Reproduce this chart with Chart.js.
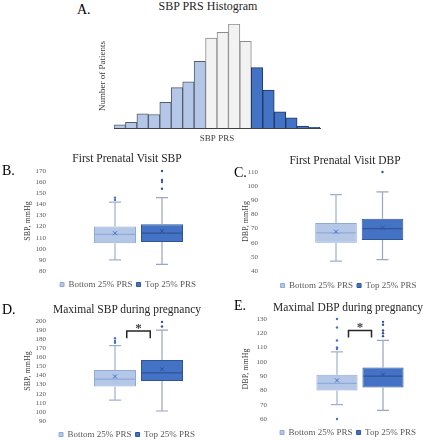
<!DOCTYPE html>
<html>
<head>
<meta charset="utf-8">
<title>SBP PRS figure</title>
<script src="https://cdn.jsdelivr.net/npm/chart.js@4.4.1/dist/chart.umd.min.js"></script>
<style>
  body {
    margin: 0;
    width: 423px;
    height: 440px;
    overflow: hidden;
    background: #fff;
    position: relative;
    font-family: "Liberation Serif", "Times New Roman", serif;
  }
  canvas { position: absolute; }
  .letter { position: absolute; font-size: 14px; line-height: 16px; color: #000; }
  .title {
    position: absolute;
    width: 220px;
    text-align: center;
    font-size: 11.5px;
    line-height: 14px;
    color: #262626;
    white-space: nowrap;
  }
</style>
</head>
<body>
<div class="letter" style="left:77px;top:2px">A.</div>
<div class="title" style="left:98px;top:-1px;font-size:12px">SBP PRS Histogram</div>
<canvas id="hist" width="240" height="130" style="left:90px;top:18px"></canvas>

<canvas id="sbpFirst" width="256" height="137" style="left:0px;top:162px"></canvas>
<canvas id="dbpFirst" width="225" height="137" style="left:236px;top:163px"></canvas>
<canvas id="sbpMax" width="254" height="137" style="left:0px;top:312px"></canvas>
<canvas id="dbpMax" width="224" height="137" style="left:236px;top:310px"></canvas>

<div class="letter" style="left:2px;top:163px">B.</div>
<div class="title" style="left:17px;top:151px">First Prenatal Visit SBP</div>
<div class="letter" style="left:234px;top:165px">C.</div>
<div class="title" style="left:235px;top:153px">First Prenatal Visit DBP</div>
<div class="letter" style="left:2px;top:302px">D.</div>
<div class="title" style="left:17px;top:302px">Maximal SBP during pregnancy</div>
<div class="letter" style="left:234px;top:298px">E.</div>
<div class="title" style="left:238px;top:300px">Maximal DBP during pregnancy</div>

<script>
//// data

// histogram: number of patients in each PRS bin, left to right
const histBins = [5, 9, 22, 21, 40, 63, 72, 104, 140, 149, 162, 135, 94, 59, 25, 16, 3, 1];
// PRS group each bin belongs to
const histGroups = [
  "bottom", "bottom", "bottom", "bottom", "bottom", "bottom", "bottom", "bottom",
  "middle", "middle", "middle", "middle",
  "top", "top", "top", "top", "top", "top",
];

const groupLabels = ["Bottom 25% PRS", "Top 25% PRS"];

// box plots: [min, Q1, median, Q3, max] for the bottom and top group
const firstSbpBox = [[90, 105, 113, 120, 142], [86, 106, 114, 122, 146]];
const firstSbpMean = [114, 116];
const firstSbpOutliers = [[144, 146], [154, 160, 162, 170]];
const firstSbpTicks = [80, 170, 10]; // min, max, step

const firstDbpBox = [[47, 60, 67, 74, 94], [48, 62, 70, 77, 96]];
const firstDbpMean = [67.8, 70.6];
const firstDbpOutliers = [[], [110]];
const firstDbpTicks = [40, 110, 10];

const maxSbpBox = [[113, 128, 136, 146, 173], [101, 134, 143, 157, 190]];
const maxSbpMean = [139, 147];
const maxSbpOutliers = [[176, 178, 181], [194, 199]];
const maxSbpTicks = [90, 200, 10];
const maxSbpSig = [181, 189, 195]; // bracket foot, bracket top, star

const maxDbpBox = [[70, 80, 85, 91, 107], [66, 82, 90, 96, 115]];
const maxDbpMean = [87, 91];
const maxDbpOutliers = [[60, 109, 110, 115, 124, 130], [118, 120, 122, 126, 128]];
const maxDbpTicks = [60, 130, 10];
const maxDbpSig = [117, 122, 126];

//// styles
const serif = "'Liberation Serif', 'Times New Roman', serif";
Chart.defaults.font.family = serif;

const histStyle = {
  bottom: { fill: "#b4c7e7", border: "#545d6e" },
  middle: { fill: "#f2f2f2", border: "#8c8c8c" },
  top: { fill: "#4472c4", border: "#203864" },
};

const groupStyle = [
  { fill: "#b4c7e7", border: "#8eaadb", whisker: "#9db0d4", median: "#8eaadb", dot: "#4472c4" },
  { fill: "#4472c4", border: "#2f5597", whisker: "#98a6c0", median: "#2f5597", dot: "#2f5597" },
];

//// histogram
new Chart(document.getElementById("hist"), {
  type: "bar",
  data: {
    labels: histBins.map((_, i) => i + 1),
    datasets: [
      {
        data: histBins,
        backgroundColor: histGroups.map((g) => histStyle[g].fill),
        borderColor: histGroups.map((g) => histStyle[g].border),
        borderWidth: 1,
        categoryPercentage: 1,
        barPercentage: 1,
      },
    ],
  },
  options: {
    responsive: false,
    animation: false,
    events: [],
    layout: { padding: { top: 6, right: 10, left: 0, bottom: 0 } },
    plugins: { legend: { display: false }, tooltip: { enabled: false } },
    scales: {
      x: {
        ticks: { display: false },
        grid: { display: false },
        border: { display: true, color: "#404040", width: 1 },
        title: {
          display: true,
          text: "SBP PRS",
          color: "#404040",
          font: { size: 9 },
          padding: { top: 0, bottom: 3.6 },
        },
        afterFit: (s) => { s.height = 20; },
      },
      y: {
        min: 0,
        max: 162,
        ticks: { display: false },
        grid: { display: false },
        border: { display: false },
        title: {
          display: true,
          text: "Number of Patients",
          color: "#404040",
          font: { size: 9 },
          padding: { top: 7.6, bottom: 0 },
        },
        afterFit: (s) => { s.width = 24; },
      },
    },
  },
});

//// box plot pieces that bars can't draw: whiskers, median, mean, outliers, bracket
function boxParts(box, mean, outliers, sig) {
  return {
    id: "boxParts",
    afterDatasetsDraw(chart) {
      const ctx = chart.ctx;
      const y = chart.scales.y;
      const bars = box.map((_, i) => chart.getDatasetMeta(i).data[i]);
      box.forEach((b, i) => {
        const st = groupStyle[i];
        const x = bars[i].x;
        const half = bars[i].width / 2;
        ctx.save();
        // whiskers and caps
        ctx.strokeStyle = st.whisker;
        ctx.lineWidth = 1.2;
        ctx.beginPath();
        ctx.moveTo(x, y.getPixelForValue(b[4]));
        ctx.lineTo(x, y.getPixelForValue(b[3]));
        ctx.moveTo(x, y.getPixelForValue(b[1]));
        ctx.lineTo(x, y.getPixelForValue(b[0]));
        [b[0], b[4]].forEach((v) => {
          const py = y.getPixelForValue(v);
          ctx.moveTo(x - 6, py);
          ctx.lineTo(x + 6, py);
        });
        ctx.stroke();
        // median
        ctx.strokeStyle = st.median;
        ctx.lineWidth = 1.2;
        ctx.beginPath();
        const my = y.getPixelForValue(b[2]);
        ctx.moveTo(x - half + 1, my);
        ctx.lineTo(x + half - 1, my);
        ctx.stroke();
        // mean marker
        const ay = y.getPixelForValue(mean[i]);
        ctx.strokeStyle = st.dot;
        ctx.lineWidth = 1;
        ctx.beginPath();
        ctx.moveTo(x - 2, ay - 2);
        ctx.lineTo(x + 2, ay + 2);
        ctx.moveTo(x + 2, ay - 2);
        ctx.lineTo(x - 2, ay + 2);
        ctx.stroke();
        // outliers
        ctx.fillStyle = st.dot;
        outliers[i].forEach((v) => {
          ctx.beginPath();
          ctx.arc(x, y.getPixelForValue(v), 1.2, 0, Math.PI * 2);
          ctx.fill();
        });
        ctx.restore();
      });
      if (sig) {
        const mid = (bars[0].x + bars[1].x) / 2;
        const q = (bars[1].x - bars[0].x) / 4;
        const foot = y.getPixelForValue(sig[0]);
        const top = y.getPixelForValue(sig[1]);
        ctx.save();
        ctx.strokeStyle = "#262626";
        ctx.lineWidth = 1.5;
        ctx.beginPath();
        ctx.moveTo(mid - q, foot);
        ctx.lineTo(mid - q, top);
        ctx.lineTo(mid + q, top);
        ctx.lineTo(mid + q, foot);
        ctx.stroke();
        ctx.fillStyle = "#404040";
        ctx.font = "bold 13px " + serif;
        ctx.textAlign = "center";
        ctx.textBaseline = "middle";
        ctx.fillText("*", mid, y.getPixelForValue(sig[2]) + 3);
        ctx.restore();
      }
    },
  };
}

function boxChart(id, yTitle, box, mean, outliers, ticks, sig, geo) {
  return new Chart(document.getElementById(id), {
    type: "bar",
    data: {
      labels: groupLabels,
      datasets: groupLabels.map((label, i) => ({
        label: label,
        data: groupLabels.map((_, j) => (j === i ? [box[i][1], box[i][3]] : null)),
        backgroundColor: groupStyle[i].fill,
        borderColor: groupStyle[i].border,
        borderWidth: 1,
        borderSkipped: false,
        grouped: false,
        categoryPercentage: 1,
        barPercentage: 0.894,
      })),
    },
    options: {
      responsive: false,
      animation: false,
      events: [],
      layout: { padding: { top: 9, left: 0, right: 0, bottom: 0 } },
      plugins: {
        tooltip: { enabled: false },
        legend: {
          position: "bottom",
          labels: {
            boxWidth: 4,
            boxHeight: 4,
            padding: 4,
            color: "#595959",
            font: { size: 9 },
          },
        },
      },
      scales: {
        x: {
          ticks: { display: false },
          grid: { display: false, drawTicks: false },
          border: { display: false },
          afterFit: (s) => { s.height = geo.xHeight; },
        },
        y: {
          min: ticks[0],
          max: ticks[1],
          ticks: {
            stepSize: ticks[2],
            autoSkip: false,
            padding: geo.tickPad,
            color: "#595959",
            font: { size: 7 },
          },
          grid: { display: false, drawTicks: false },
          border: { display: false },
          title: {
            display: true,
            text: yTitle,
            color: "#404040",
            font: { size: 8 },
            padding: { top: geo.titlePad, bottom: 0 },
          },
          afterFit: (s) => {
            s.width = geo.yWidth;
            // the wide tick gap would otherwise also pad the top and bottom
            s.paddingTop = 4;
            s.paddingBottom = 4;
          },
        },
        // empty axis on the right, only to place the boxes under the legend like the original
        pad: {
          type: "linear",
          position: "right",
          ticks: { display: false },
          grid: { display: false, drawTicks: false },
          border: { display: false },
          afterFit: (s) => { s.width = geo.rightWidth; },
        },
      },
    },
    plugins: [boxParts(box, mean, outliers, sig)],
  });
}

boxChart("sbpFirst", "SBP, mmHg", firstSbpBox, firstSbpMean, firstSbpOutliers, firstSbpTicks, null,
  { yWidth: 91.5, tickPad: 45.5, titlePad: 23.2, rightWidth: 70.5, xHeight: 5 });
boxChart("dbpFirst", "DBP, mmHg", firstDbpBox, firstDbpMean, firstDbpOutliers, firstDbpTicks, null,
  { yWidth: 76.75, tickPad: 54.75, titlePad: 5.2, rightWidth: 55.25, xHeight: 6 });
boxChart("sbpMax", "SBP, mmHg", maxSbpBox, maxSbpMean, maxSbpOutliers, maxSbpTicks, maxSbpSig,
  { yWidth: 91.5, tickPad: 45.5, titlePad: 23.2, rightWidth: 68.5, xHeight: 5 });
boxChart("dbpMax", "DBP, mmHg", maxDbpBox, maxDbpMean, maxDbpOutliers, maxDbpTicks, maxDbpSig,
  { yWidth: 78, tickPad: 47, titlePad: 5.2, rightWidth: 54, xHeight: 5 });
</script>
</body>
</html>
